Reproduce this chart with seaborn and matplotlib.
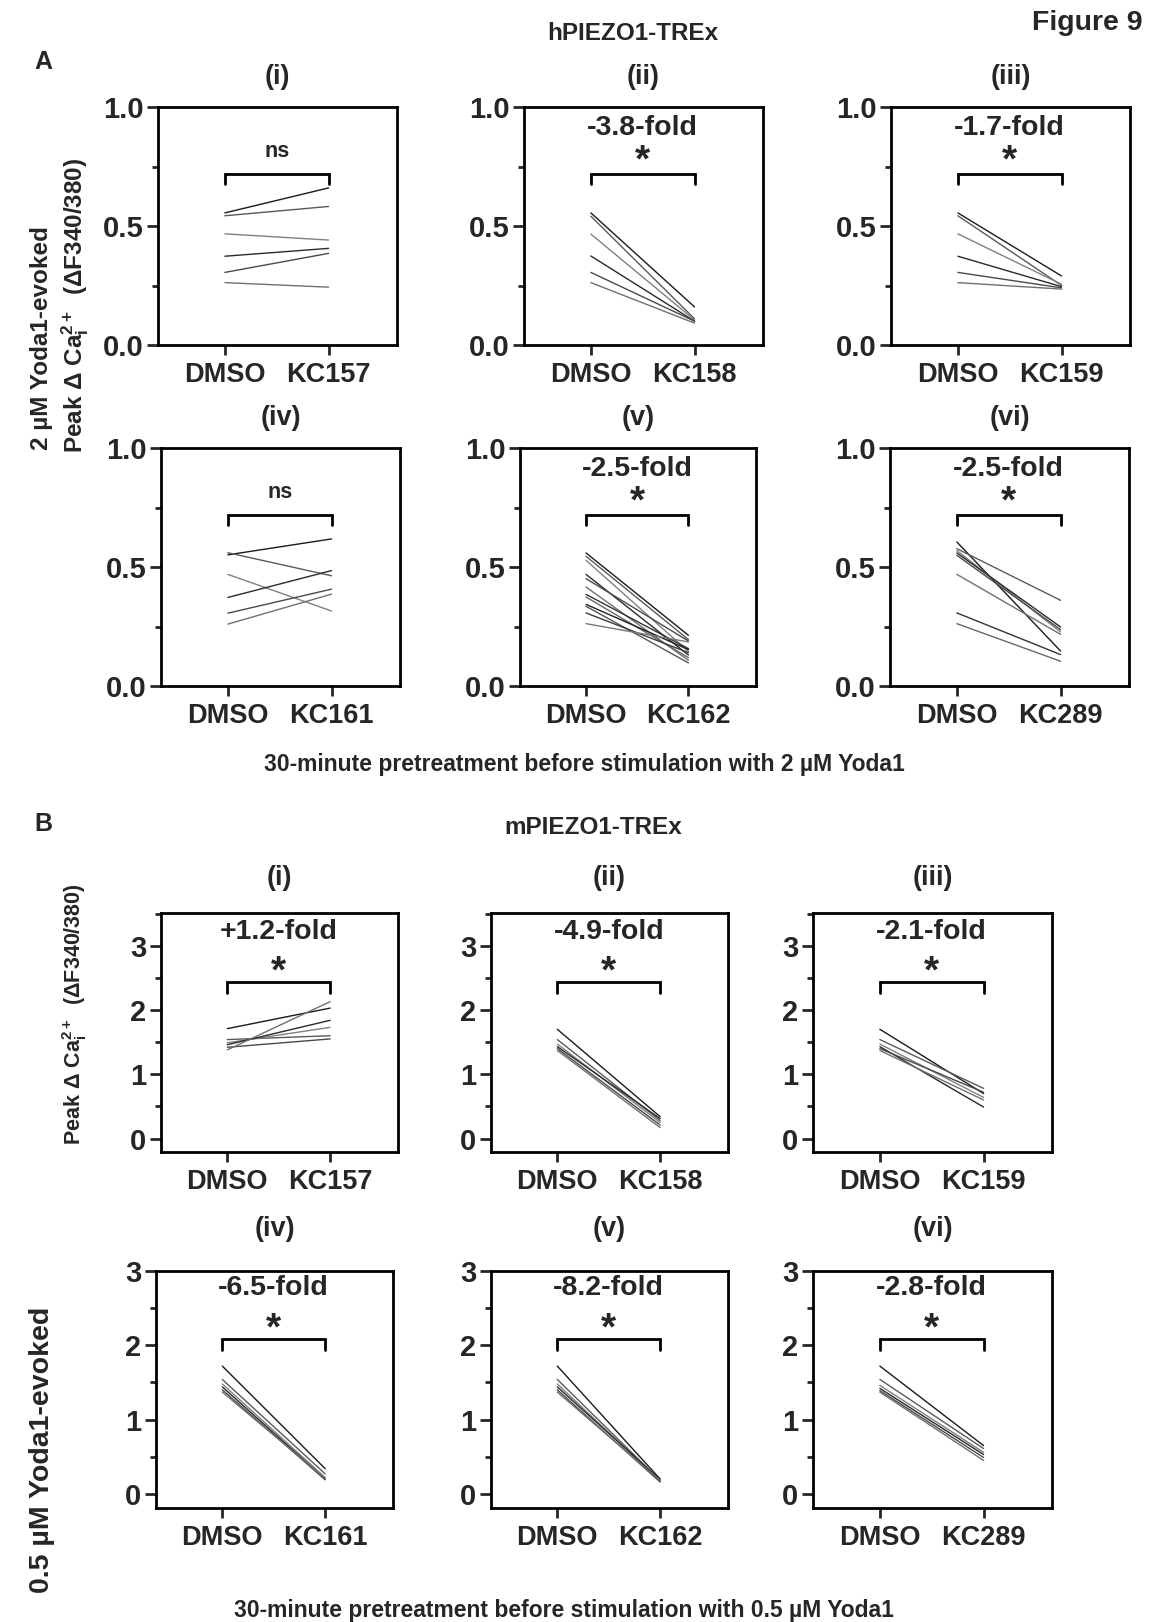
import numpy as np
import pandas as pd
import matplotlib
matplotlib.use("Agg")
import matplotlib.pyplot as plt
import seaborn as sns
from matplotlib.ticker import MultipleLocator, FormatStrFormatter

sns.set_style("ticks")
plt.rcParams["font.family"] = ["Liberation Sans", "DejaVu Sans"]
plt.rcParams["font.weight"] = "bold"
plt.rcParams["mathtext.fontset"] = "custom"
plt.rcParams["mathtext.rm"] = "Liberation Sans:bold"
plt.rcParams["mathtext.it"] = "Liberation Sans:bold"
plt.rcParams["mathtext.bf"] = "Liberation Sans:bold"

# ---------------- data ----------------
groups = ["DMSO", "KC"]
A_compounds = ["KC157", "KC158", "KC159", "KC161", "KC162", "KC289"]
B_compounds = ["KC157", "KC158", "KC159", "KC161", "KC162", "KC289"]
roman = ["(i)", "(ii)", "(iii)", "(iv)", "(v)", "(vi)"]

A_i_dmso = [0.555, 0.543, 0.467, 0.373, 0.305, 0.262]
A_i_kc = [0.660, 0.582, 0.441, 0.406, 0.385, 0.243]
A_ii_dmso = [0.555, 0.541, 0.466, 0.374, 0.305, 0.262]
A_ii_kc = [0.160, 0.110, 0.105, 0.100, 0.100, 0.092]
A_iii_dmso = [0.555, 0.543, 0.467, 0.373, 0.305, 0.262]
A_iii_kc = [0.290, 0.250, 0.255, 0.245, 0.240, 0.235]
A_iv_dmso = [0.551, 0.560, 0.469, 0.372, 0.306, 0.260]
A_iv_kc = [0.618, 0.463, 0.315, 0.485, 0.407, 0.386]
A_v_dmso = [0.559, 0.545, 0.528, 0.469, 0.451, 0.416, 0.385, 0.374, 0.343, 0.335, 0.307, 0.262]
A_v_kc = [0.213, 0.195, 0.145, 0.130, 0.189, 0.108, 0.157, 0.119, 0.153, 0.097, 0.140, 0.185]
A_vi_dmso = [0.605, 0.577, 0.569, 0.559, 0.549, 0.469, 0.307, 0.262]
A_vi_kc = [0.147, 0.360, 0.227, 0.248, 0.237, 0.217, 0.132, 0.104]

B_i_dmso = [1.71, 1.54, 1.49, 1.46, 1.42, 1.38]
B_i_kc = [2.03, 1.60, 1.73, 1.84, 1.55, 2.13]
B_ii_dmso = [1.70, 1.54, 1.47, 1.43, 1.40, 1.37]
B_ii_kc = [0.34, 0.28, 0.25, 0.31, 0.21, 0.17]
B_iii_dmso = [1.70, 1.54, 1.47, 1.43, 1.40, 1.37]
B_iii_kc = [0.70, 0.78, 0.64, 0.49, 0.72, 0.60]
B_iv_dmso = [1.72, 1.54, 1.48, 1.44, 1.40, 1.37]
B_iv_kc = [0.34, 0.27, 0.22, 0.20, 0.19, 0.21]
B_v_dmso = [1.72, 1.54, 1.48, 1.44, 1.40, 1.37]
B_v_kc = [0.20, 0.18, 0.17, 0.19, 0.16, 0.18]
B_vi_dmso = [1.72, 1.54, 1.46, 1.42, 1.39, 1.37]
B_vi_kc = [0.65, 0.61, 0.56, 0.53, 0.49, 0.45]

A_fold = [None, "-3.8-fold", "-1.7-fold", None, "-2.5-fold", "-2.5-fold"]
A_sig = ["ns", "*", "*", "ns", "*", "*"]
B_fold = ["+1.2-fold", "-4.9-fold", "-2.1-fold", "-6.5-fold", "-8.2-fold", "-2.8-fold"]
B_sig = ["*", "*", "*", "*", "*", "*"]

A_pairs = [(A_i_dmso, A_i_kc), (A_ii_dmso, A_ii_kc), (A_iii_dmso, A_iii_kc),
           (A_iv_dmso, A_iv_kc), (A_v_dmso, A_v_kc), (A_vi_dmso, A_vi_kc)]
B_pairs = [(B_i_dmso, B_i_kc), (B_ii_dmso, B_ii_kc), (B_iii_dmso, B_iii_kc),
           (B_iv_dmso, B_iv_kc), (B_v_dmso, B_v_kc), (B_vi_dmso, B_vi_kc)]

# ---------------- layout ----------------
W, H = 1149, 1622
fig = plt.figure(figsize=(W / 100, H / 100), dpi=100)


def add_ax(left, top, width, height):
    return fig.add_axes([left / W, 1 - (top + height) / H, width / W, height / H])


def ftext(x, y, s, **kw):
    fig.text(x / W, 1 - y / H, s, **kw)


line_colors = ["#1a1a1a", "#5a5a5a", "#808080", "#2a2a2a", "#4a4a4a", "#707070",
               "#333333", "#666666", "#222222", "#555555", "#3a3a3a", "#777777"]

XTICK_FS = 19.5
YTICK_FS = 21


def draw_panel(ax, dmso, kc, comp, ylim, major, minor, bar_y, drop, sig, sig_y,
               fold, fold_y):
    n = len(dmso)
    df = pd.DataFrame({
        "pos": [0] * n + [1] * n,
        "value": list(dmso) + list(kc),
        "subject": list(range(n)) * 2,
    })
    sns.lineplot(data=df, x="pos", y="value", units="subject", estimator=None,
                 hue="subject", palette=line_colors[:n], legend=False,
                 linewidth=1.0, ax=ax)
    ax.set_xlim(-0.645, 1.66)
    ax.set_ylim(*ylim)
    ax.set_xticks([0, 1])
    ax.set_xticklabels(["DMSO", comp], fontsize=XTICK_FS, fontweight="bold")
    ax.yaxis.set_major_locator(MultipleLocator(major))
    ax.yaxis.set_minor_locator(MultipleLocator(minor))
    ax.set_xlabel("")
    ax.set_ylabel("")
    for sp in ax.spines.values():
        sp.set_visible(True)
        sp.set_linewidth(2)
        sp.set_color("black")
    ax.tick_params(axis="y", which="major", length=8, width=2, labelsize=YTICK_FS, pad=2.5)
    ax.tick_params(axis="y", which="minor", length=4, width=2)
    ax.tick_params(axis="x", which="major", length=7, width=2, pad=5)
    for lab in ax.get_yticklabels():
        lab.set_fontweight("bold")
    # bracket
    ax.plot([0, 0, 1, 1], [bar_y - drop, bar_y, bar_y, bar_y - drop],
            color="black", lw=2, solid_joinstyle="miter", clip_on=False)
    if sig == "ns":
        ax.text(0.5, sig_y, "ns", ha="center", va="center", fontsize=15.5, fontweight="bold")
    else:
        ax.text(0.5, sig_y, "*", ha="center", va="center", fontsize=28, fontweight="bold")
    if fold:
        ax.text(0.5, fold_y, fold, ha="center", va="center", fontsize=20.5, fontweight="bold")


# panel A
A_boxes = [(158, 107, 239, 238), (524, 107, 239, 238), (891, 107, 239, 238),
           (161, 448, 239, 238), (520, 448, 236, 238), (890, 448, 239, 238)]
for k in range(6):
    ax = add_ax(*A_boxes[k])
    d, c = A_pairs[k]
    draw_panel(ax, d, c, A_compounds[k], (0, 1.0), 0.5, 0.25,
               bar_y=0.72, drop=0.045, sig=A_sig[k],
               sig_y=(0.815 if A_sig[k] == "ns" else 0.77),
               fold=A_fold[k], fold_y=0.91)
    ax.yaxis.set_major_formatter(FormatStrFormatter("%.1f"))
    l, t, w, h = A_boxes[k]
    ftext(l + w / 2, t - 30, roman[k], ha="center", va="center", fontsize=19.5, fontweight="bold")

# panel B
B_boxes = [(161, 913, 237, 239), (491, 913, 237, 239), (813, 913, 239, 239),
           (156, 1271, 237, 237), (491, 1271, 237, 237), (813, 1271, 239, 237)]
for k in range(6):
    ax = add_ax(*B_boxes[k])
    d, c = B_pairs[k]
    if k < 3:
        ylim = (-0.21, 3.51)
        bar_y, drop, sig_y, fold_y = 2.43, 0.16, 2.58, 3.22
    else:
        ylim = (-0.19, 3.0)
        bar_y, drop, sig_y, fold_y = 2.09, 0.15, 2.21, 2.77
    draw_panel(ax, d, c, B_compounds[k], ylim, 1, 0.5,
               bar_y=bar_y, drop=drop, sig=B_sig[k], sig_y=sig_y,
               fold=B_fold[k], fold_y=fold_y)
    l, t, w, h = B_boxes[k]
    off = 35 if k < 3 else 42
    ftext(l + w / 2, t - off, roman[k], ha="center", va="center", fontsize=19.5, fontweight="bold")

# figure-level text
ftext(1143, 23, "Figure 9", ha="right", va="center", fontsize=20.5, fontweight="bold")
ftext(43, 62, "A", ha="center", va="center", fontsize=18, fontweight="bold")
ftext(43, 824, "B", ha="center", va="center", fontsize=18, fontweight="bold")
ftext(633, 34, "hPIEZO1-TREx", ha="center", va="center", fontsize=17.5, fontweight="bold")
ftext(593, 827, "mPIEZO1-TREx", ha="center", va="center", fontsize=17.5, fontweight="bold")
ftext(584, 765, "30-minute pretreatment before stimulation with 2 µM Yoda1",
      ha="center", va="center", fontsize=16.5, fontweight="bold")
ftext(564, 1611, "30-minute pretreatment before stimulation with 0.5 µM Yoda1",
      ha="center", va="center", fontsize=16.5, fontweight="bold")

peak = r"Peak Δ Ca$^{2+}_{\mathrm{i}}$  (ΔF340/380)"
ftext(42, 338, "2 µM Yoda1-evoked", rotation=90, ha="center", va="center",
      fontsize=17.5, fontweight="bold")
ftext(75, 305, peak, rotation=90, ha="center", va="center", fontsize=17.5, fontweight="bold")
ftext(42, 1450, "0.5 µM Yoda1-evoked", rotation=90, ha="center", va="center",
      fontsize=20.5, fontweight="bold")
ftext(75, 1014, peak, rotation=90, ha="center", va="center", fontsize=15.5, fontweight="bold")

fig.savefig("out.png", dpi=100)
